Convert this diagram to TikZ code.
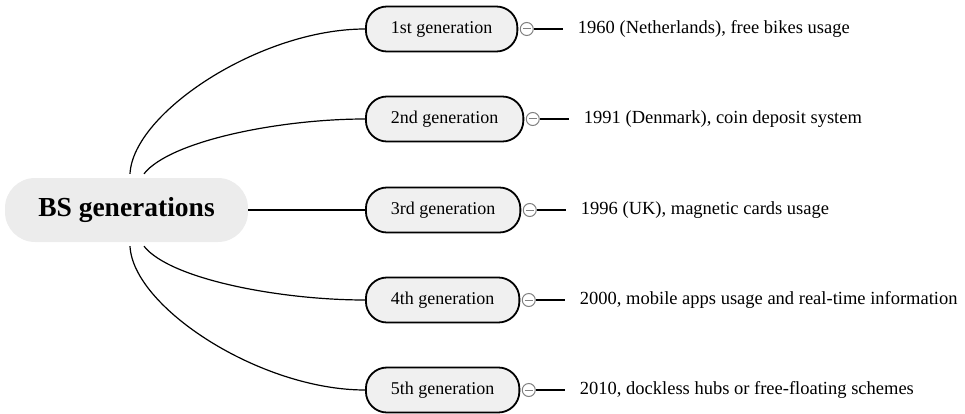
\documentclass[tikz,border=0pt]{standalone}
\usepackage{fontspec}
\setmainfont{Liberation Serif}
\usetikzlibrary{positioning}
\begin{document}
\begin{tikzpicture}[x=1pt, y=1pt,
rootnode/.style={rectangle, rounded corners=30pt, fill=gray!15, minimum width=243pt, minimum height=64pt, font=\fontsize{27.5}{30}\selectfont\bfseries},
gennode/.style={rectangle, rounded corners=21pt, draw=black, fill=gray!12, line width=1.8pt, minimum height=45pt, inner xsep=25pt, anchor=west, font=\fontsize{18}{20}\selectfont},
minusnode/.style={circle, draw=gray, line width=1pt, minimum size=13pt, inner sep=0pt, path picture={\draw[gray, line width=1pt] ([xshift=-4pt]path picture bounding box.center) -- ([xshift=4pt]path picture bounding box.center);}},
leafnode/.style={inner sep=0pt, font=\fontsize{18.5}{20}\selectfont},
branch/.style={line width=1.2pt},
]
\useasboundingbox (0,0) rectangle (965,413);

%Nodes
\node[rootnode] (root) at (126.5,203) {BS generations};
\node[gennode] (gen1) at (365,384) {1st generation};
\node[gennode] (gen2) at (365,294) {2nd generation};
\node[gennode] (gen3) at (365,203) {3rd generation};
\node[gennode] (gen4) at (365,113) {4th generation};
\node[gennode] (gen5) at (365,23) {5th generation};

\node[minusnode] (minus1) [right=1.5pt of gen1] {};
\node[minusnode] (minus2) [right=1.5pt of gen2] {};
\node[minusnode] (minus3) [right=1.5pt of gen3] {};
\node[minusnode] (minus4) [right=1.5pt of gen4] {};
\node[minusnode] (minus5) [right=1.5pt of gen5] {};

\node[leafnode] (info1) [right=44pt of minus1] {1960 (Netherlands), free bikes usage};
\node[leafnode] (info2) [right=44pt of minus2] {1991 (Denmark), coin deposit system};
\node[leafnode] (info3) [right=44pt of minus3] {1996 (UK), magnetic cards usage};
\node[leafnode] (info4) [right=44pt of minus4] {2000, mobile apps usage and real-time information};
\node[leafnode] (info5) [right=44pt of minus5] {2010, dockless hubs or free-floating schemes};

\coordinate (topout) at ([xshift=3.5pt,yshift=4pt]root.north);
\coordinate (topin) at ([xshift=17.5pt,yshift=4pt]root.north);
\coordinate (botout) at ([xshift=3.5pt,yshift=-4pt]root.south);
\coordinate (botin) at ([xshift=17.5pt,yshift=-4pt]root.south);

%Lines
\draw[branch] (topout) .. controls +(3,61) and +(-105,0) .. (gen1.west);
\draw[branch] (topin) .. controls +(26,33) and +(-85,0) .. (gen2.west);
\draw[branch] (root.east) -- (gen3.west);
\draw[branch] (botin) .. controls +(26,-33) and +(-85,0) .. (gen4.west);
\draw[branch] (botout) .. controls +(3,-61) and +(-105,0) .. (gen5.west);

\draw[branch, shorten >=15pt] (minus1) -- (info1);
\draw[branch, shorten >=15pt] (minus2) -- (info2);
\draw[branch, shorten >=15pt] (minus3) -- (info3);
\draw[branch, shorten >=15pt] (minus4) -- (info4);
\draw[branch, shorten >=15pt] (minus5) -- (info5);
\end{tikzpicture}
\end{document}
